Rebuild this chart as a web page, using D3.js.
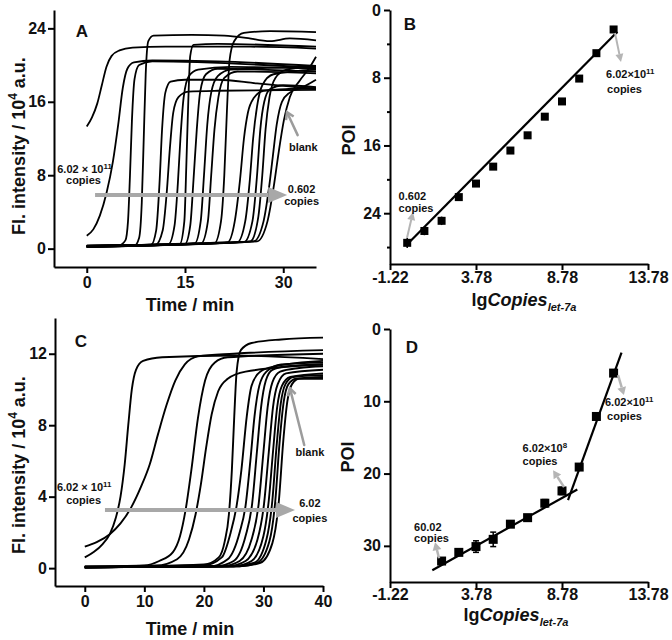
<!DOCTYPE html>
<html><head><meta charset="utf-8">
<script src="https://cdn.jsdelivr.net/npm/d3@7"></script>
<style>
body{margin:0;background:#fff;}
svg{display:block;}
text{font-family:"Liberation Sans",Arial,sans-serif;font-weight:bold;fill:#111;}
</style></head><body>
<svg id="chart" width="672" height="640"></svg>
<script>
// ---------------- DATA ----------------
// Panel A: fluorescence curves [time (min), intensity (10^4 a.u.)]
const curvesA = [
  [[0,13.3],[0.8,14.3],[1.6,15.8],[2.3,17.8],[3,19.8],[3.8,21],[5,21.6],[7,21.9],[12,22.0],[25,22.0],[35,21.8]],
  [[0,1.4],[1,2.1],[2,3.6],[3,6],[4,9.5],[4.8,13.5],[5.5,17.5],[6.2,19.6],[7.2,20.3],[10,20.5],[20,20.4],[35,19.9]],
  [[0,0.35],[5,0.4],[5.9,0.9],[6.3,3],[6.6,8],[6.9,14],[7.3,18.5],[8,20],[10,20.4],[35,19.7]],
  [[0,0.3],[7.3,0.35],[8.0,1.2],[8.4,5],[8.7,12],[9.0,19],[9.4,22.6],[10.2,23.2],[16,23.3],[21,23.2],[24,23.0],[28,22.6],[31,22.9],[35,22.7]],
  [[0,0.25],[9.8,0.4],[10.6,2],[11.1,7],[11.5,13],[12,17],[12.8,18.2],[15,18.4],[20,18.4],[26,18.0],[35,17.4]],
  [[0,0.2],[10.5,0.4],[11.6,2],[12.2,6],[12.7,11],[13.2,14.8],[14,16.5],[15.5,17.1],[20,17.2],[35,17.3]],
  [[0,0.3],[12.5,0.5],[13.4,2.5],[13.9,7],[14.3,12],[14.8,16.5],[15.6,18.8],[17,19.5],[22,19.8],[35,19.6]],
  [[0,0.2],[14.2,0.5],[14.9,3],[15.2,9],[15.5,16],[15.8,21],[16.3,22.2],[20,22.3],[35,22.0]],
  [[0,0.25],[15,0.5],[15.8,2.5],[16.3,7.5],[16.8,13],[17.3,17],[18.2,19],[20,19.6],[35,19.3]],
  [[0,0.3],[16.5,0.6],[17.4,3],[17.9,8],[18.4,13.5],[19,17],[20,18.8],[22,19.5],[35,19.8]],
  [[0,0.2],[17.5,0.6],[18.5,3],[19,8],[19.5,13],[20.1,16.5],[21,18.6],[23,19.3],[35,19.1]],
  [[0,0.25],[19.5,0.6],[20.5,3],[21,8],[21.4,15],[21.8,20.5],[22.5,22.6],[24,23.5],[28,23.7],[35,23.6]],
  [[0,0.3],[21.5,0.7],[22.6,3],[23.4,7.5],[24,12],[24.6,14.8],[25.5,16.4],[27,17.2],[35,17.5]],
  [[0,0.2],[23,0.7],[24.2,3],[24.9,7.5],[25.4,12],[26,15.5],[26.8,17.8],[28.5,19],[35,19.5]],
  [[0,0.3],[24,0.7],[25.3,3],[26,8],[26.5,13],[27.1,16],[28,17.4],[30,17.8],[35,17.6]],
  [[0,0.2],[25,0.8],[26.2,3.5],[26.8,8],[27.3,13],[27.9,16.5],[28.8,18.6],[30.5,19.5],[35,19.9]],
  [[0,0.3],[25.5,0.8],[27,3],[27.8,6.5],[28.4,10],[29,13.5],[29.8,16],[31,17],[33,17.6],[35,18.4]],
  [[0,0.2],[26,0.8],[27.6,3],[28.6,7],[29.3,10.5],[30.1,14],[31,16.5],[32.5,18.3],[34,19.7],[35,20.9]]
];
// Panel C: fluorescence curves [time (min), intensity (10^4 a.u.)]
const curvesC = [
  [[0,0.6],[1.5,0.9],[3,1.35],[4.2,1.9],[5.2,2.8],[6,4],[6.7,5.8],[7.3,8],[7.9,10],[8.6,11.1],[9.8,11.6],[13,11.8],[25,11.9],[40,11.7]],
  [[0,1.2],[2,1.45],[4.2,1.9],[6,2.5],[7.8,3.4],[9.5,4.6],[10.9,5.8],[12.3,7.5],[13.7,9.1],[15.2,10.5],[16.8,11.4],[19,11.85],[25,12.0],[40,12.2]],
  [[0,0.1],[10,0.15],[12.5,0.4],[14.8,0.9],[16,1.8],[16.9,3.2],[17.9,5.5],[19,8.4],[20.2,10.5],[21.8,11.5],[24,11.8],[40,12.0]],
  [[0,0.1],[12,0.15],[15.5,0.5],[17.5,1.6],[18.6,3],[19.5,4.7],[20.4,6.8],[21.3,8.6],[22.4,9.9],[24,10.6],[27,11.0],[40,11.4]],
  [[0,0.05],[20,0.2],[22.5,0.6],[23.5,1.5],[24.2,3],[24.7,5.5],[25.1,8.5],[25.5,11],[26.2,12.2],[28,12.6],[33,12.8],[40,12.9]],
  [[0,0.05],[20,0.15],[23,0.6],[24.5,2],[25.5,3.5],[26.3,5.5],[27.2,8.5],[28,10.2],[29.5,11],[32,11.3],[40,11.6]],
  [[0,0.05],[21,0.1],[24,0.5],[26,2],[27,3.5],[27.8,6],[28.5,8.5],[29.3,10.2],[30.5,11],[33,11.4],[40,11.5]],
  [[0,0.05],[22,0.1],[25,0.4],[27,1.8],[28.1,3.6],[28.9,6.5],[29.6,9],[30.4,10.5],[31.5,11.1],[34,11.3],[40,11.4]],
  [[0,0.05],[23,0.1],[26,0.4],[28,1.6],[29.2,3.6],[30,6.5],[30.7,9],[31.5,10.4],[32.8,11],[36,11.2],[40,11.3]],
  [[0,0.05],[24,0.1],[27,0.4],[29,1.6],[30.1,3.6],[30.9,6.5],[31.6,9],[32.4,10.3],[33.8,10.9],[40,11.1]],
  [[0,0.05],[25,0.1],[28,0.4],[30,1.8],[30.9,3.8],[31.6,6.5],[32.3,9],[33.1,10.2],[34.5,10.7],[40,10.9]],
  [[0,0.05],[25,0.1],[28.5,0.3],[30.5,1.6],[31.5,3.8],[32.2,6.8],[32.9,9.2],[33.7,10.3],[35,10.7],[40,10.8]],
  [[0,0.05],[26,0.1],[29,0.3],[31,1.5],[32,3.8],[32.7,7],[33.4,9.3],[34.2,10.3],[35.5,10.6],[40,10.7]],
  [[0,0.05],[26,0.1],[29.5,0.3],[31.5,1.4],[32.6,3.8],[33.3,7],[34,9.3],[34.8,10.3],[36,10.6],[40,10.6]]
];
// Panel B: POI vs lg copies
const lgB   = [-0.22, 0.78, 1.78, 2.78, 3.78, 4.78, 5.78, 6.78, 7.78, 8.78, 9.78, 10.78, 11.78];
const poiB  = [27.5, 26.1, 24.9, 22.1, 20.5, 18.5, 16.6, 14.8, 12.6, 10.8, 8.1, 5.1, 2.3];
const errB  = [0.6, 0.5, 0.5, 0.3, 0.3, 0.3, 0.3, 0.3, 0.3, 0.3, 0.3, 0.3, 0.3];
const fitB  = [[-0.3, 27.85], [12.0, 2.56]];
// Panel D: POI vs lg copies
const lgD   = [1.78, 2.78, 3.78, 4.78, 5.78, 6.78, 7.78, 8.78, 9.78, 10.78, 11.78];
const poiD  = [32.1, 30.9, 30.1, 29.1, 27.0, 26.1, 24.1, 22.4, 19.1, 12.1, 6.1];
const errD  = [0.4, 0.4, 0.8, 1.0, 0.4, 0.4, 0.5, 0.5, 0.4, 0.4, 0.4];
const fitD1 = [[1.24, 33.38], [9.67, 22.2]];
const fitD2 = [[9.13, 23.68], [12.24, 3.28]];
// Ticks
const timeTicksA = [0, 15, 30];
const intTicksA  = [0, 8, 16, 24];
const timeTicksC = [0, 10, 20, 30, 40];
const intTicksC  = [0, 4, 8, 12];
const lgTicks    = [-1.22, 3.78, 8.78, 13.78];
const poiTicksB  = [0, 8, 16, 24];
const poiMinorB  = [4, 12, 20, 28];
const poiTicksD  = [0, 10, 20, 30];
// Annotations (data coordinates)
const arrowA  = [[1.27, 5.84], [30.6, 5.84]];
const blankA  = [[32.2, 12.37], [30.57, 14.87]];
const arrowC  = [[3.39, 3.25], [35.3, 3.25]];
const blankC  = [[36.85, 6.89], [34.45, 10.06]];
const arrowsB = [[[-0.23, 26.9], [0.12, 23.86]], [[11.86, 2.72], [12.21, 6.14]]];
const arrowsD = [[[1.63, 31.72], [1.40, 29.5]], [[8.90, 21.88], [8.26, 19.53]], [[12.04, 6.37], [12.38, 9.14]]];

// ---------------- DRAW ----------------
const svg = d3.select("#chart");
svg.append("rect").attr("width", 672).attr("height", 640).attr("fill", "#fff");

function styleAxis(g, fs) {
  g.attr("font-family", null).attr("font-size", null);
  g.select(".domain").attr("stroke", "#000").attr("stroke-width", 2);
  g.selectAll(".tick line").attr("stroke", "#000").attr("stroke-width", 2);
  g.selectAll(".tick text").attr("fill", "#111").style("font-size", fs + "px").style("font-weight", "bold");
}
function axes(x, y, xt, yt, xy0, yx0, opt) {
  const gx = svg.append("g").attr("transform", `translate(0,${xy0})`)
    .call(d3.axisBottom(x).tickValues(xt).tickSize(6).tickSizeOuter(0).tickPadding(opt.xpad).tickFormat(d => String(d)));
  styleAxis(gx, 16);
  const gy = svg.append("g").attr("transform", `translate(${yx0},0)`)
    .call(d3.axisLeft(y).tickValues(yt).tickSize(6).tickSizeOuter(0).tickPadding(opt.ypad).tickFormat(d => String(d)));
  styleAxis(gy, 16);
  if (opt.minor) {
    const gm = svg.append("g").attr("transform", `translate(${yx0},0)`)
      .call(d3.axisLeft(y).tickValues(opt.minor).tickSize(3).tickFormat(""));
    gm.select(".domain").remove();
    gm.selectAll(".tick line").attr("stroke", "#000").attr("stroke-width", 2);
  }
}
function arrowFilled(p1, p2, color, w, L, W) {
  const ang = Math.atan2(p2[1] - p1[1], p2[0] - p1[0]);
  const bx = p2[0] - L * Math.cos(ang), by = p2[1] - L * Math.sin(ang);
  svg.append("line").attr("x1", p1[0]).attr("y1", p1[1]).attr("x2", bx).attr("y2", by)
    .attr("stroke", color).attr("stroke-width", w);
  const s = Math.sin(ang), c = Math.cos(ang);
  svg.append("polygon").attr("points",
    `${p2[0]},${p2[1]} ${bx + W * s},${by - W * c} ${bx - W * s},${by + W * c}`).attr("fill", color);
}
function arrowOpen(p1, p2, color, w, L) {
  const ang = Math.atan2(p2[1] - p1[1], p2[0] - p1[0]);
  svg.append("line").attr("x1", p1[0]).attr("y1", p1[1]).attr("x2", p2[0]).attr("y2", p2[1])
    .attr("stroke", color).attr("stroke-width", w).attr("stroke-linecap", "round");
  const a1 = ang + Math.PI - 0.55, a2 = ang + Math.PI + 0.55;
  svg.append("polyline").attr("points",
    `${p2[0] + L * Math.cos(a1)},${p2[1] + L * Math.sin(a1)} ${p2[0]},${p2[1]} ${p2[0] + L * Math.cos(a2)},${p2[1] + L * Math.sin(a2)}`)
    .attr("fill", "none").attr("stroke", color).attr("stroke-width", w).attr("stroke-linejoin", "miter");
}
function supText(x, y, base, sup, fs, anchor) {
  const t = svg.append("text").attr("x", x).attr("y", y).attr("text-anchor", anchor).style("font-size", fs + "px").attr("fill", "#222");
  t.append("tspan").text(base);
  t.append("tspan").style("font-size", (fs * 0.72) + "px").attr("dy", -fs * 0.38).text(sup);
  return t;
}
function plainText(x, y, s, fs, anchor) {
  return svg.append("text").attr("x", x).attr("y", y).attr("text-anchor", anchor).style("font-size", fs + "px").attr("fill", "#222").text(s);
}
function yTitleFl(cx, cy) {
  const t = svg.append("text").attr("transform", `translate(${cx},${cy}) rotate(-90)`).attr("text-anchor", "middle").style("font-size", "18px");
  t.append("tspan").text("Fl. intensity / 10");
  t.append("tspan").style("font-size", "12px").attr("dy", -8).text("4");
  t.append("tspan").attr("dy", 8).text(" a.u.");
}
function yTitlePOI(cx, cy) {
  svg.append("text").attr("transform", `translate(${cx},${cy}) rotate(-90)`).attr("text-anchor", "middle").style("font-size", "18px").text("POI");
}
function xTitleLg(cx, by) {
  const t = svg.append("text").attr("x", cx).attr("y", by).attr("text-anchor", "middle").style("font-size", "18px");
  t.append("tspan").text("lg");
  t.append("tspan").style("font-style", "italic").text("Copies");
  t.append("tspan").style("font-style", "italic").style("font-size", "11px").attr("dy", 5).text("let-7a");
}
function panelLabel(x, y, s) {
  svg.append("text").attr("x", x).attr("y", y).attr("text-anchor", "middle").style("font-size", "17px").text(s);
}

// ---- Panel A ----
const xA = d3.scaleLinear().domain([-5, 35]).range([54, 316]);
const yA = d3.scaleLinear().domain([-2, 26]).range([267, 10]);
const lineA = d3.line().x(d => xA(d[0])).y(d => yA(d[1])).curve(d3.curveMonotoneX);
svg.append("g").selectAll("path").data(curvesA).join("path")
  .attr("d", lineA).attr("fill", "none").attr("stroke", "#000").attr("stroke-width", 1.8);
axes(xA, yA, timeTicksA, intTicksA, 267, 54, {xpad: 4, ypad: 2});
arrowFilled([xA(arrowA[0][0]), yA(arrowA[0][1])], [xA(arrowA[1][0]), yA(arrowA[1][1])], "#a8a8a8", 4, 19, 8);
arrowOpen([xA(blankA[0][0]), yA(blankA[0][1])], [xA(blankA[1][0]), yA(blankA[1][1])], "#9c9c9c", 2.5, 8);
supText(xA(-0.34), yA(8.27), "6.02 × 10", "11", 11, "middle");
plainText(xA(-0.5), yA(7.04), "copies", 11, "middle");
plainText(xA(32.8), yA(6.05), "0.602", 11, "middle");
plainText(xA(32.8), yA(4.75), "copies", 11, "middle");
plainText(xA(33.06), yA(10.63), "blank", 11, "middle");
panelLabel(82, 37, "A");
svg.append("text").attr("x", 190).attr("y", 311).attr("text-anchor", "middle").style("font-size", "18px").text("Time / min");
yTitleFl(25, 146);

// ---- Panel B ----
const xB = d3.scaleLinear().domain([-1.22, 13.78]).range([390, 648]);
const yB = d3.scaleLinear().domain([0, 30]).range([10, 264]);
axes(xB, yB, lgTicks, poiTicksB, 264, 390, {xpad: 2, ypad: 3, minor: poiMinorB});
svg.append("path").datum(fitB).attr("d", d3.line().x(d => xB(d[0])).y(d => yB(d[1])))
  .attr("stroke", "#000").attr("stroke-width", 2.2).attr("fill", "none");
const ptsB = lgB.map((x, i) => ({x, y: poiB[i], e: errB[i]}));
const gB = svg.append("g");
gB.selectAll("line.eb").data(ptsB).join("line").attr("class", "eb")
  .attr("x1", d => xB(d.x)).attr("x2", d => xB(d.x)).attr("y1", d => yB(d.y - d.e)).attr("y2", d => yB(d.y + d.e))
  .attr("stroke", "#000").attr("stroke-width", 1.5);
gB.selectAll("rect").data(ptsB).join("rect")
  .attr("x", d => xB(d.x) - 4).attr("y", d => yB(d.y) - 4).attr("width", 8).attr("height", 8).attr("fill", "#000");
arrowsB.forEach(a => arrowFilled([xB(a[0][0]), yB(a[0][1])], [xB(a[1][0]), yB(a[1][1])], "#b5b5b5", 2, 8, 4));
plainText(xB(-0.72), yB(22.4), "0.602", 11, "start");
plainText(xB(-0.72), yB(23.9), "copies", 11, "start");
supText(xB(11.34), yB(8.0), "6.02×10", "11", 11, "start");
plainText(xB(11.4), yB(9.75), "copies", 11, "start");
panelLabel(410, 30, "B");
xTitleLg(524, 306);
yTitlePOI(355, 140);

// ---- Panel C ----
const xC = d3.scaleLinear().domain([-5, 40]).range([55, 323]);
const yC = d3.scaleLinear().domain([-1, 14]).range([586, 318]);
const lineC = d3.line().x(d => xC(d[0])).y(d => yC(d[1])).curve(d3.curveMonotoneX);
svg.append("g").selectAll("path").data(curvesC).join("path")
  .attr("d", lineC).attr("fill", "none").attr("stroke", "#000").attr("stroke-width", 1.9);
axes(xC, yC, timeTicksC, intTicksC, 586, 55, {xpad: 4, ypad: 2});
arrowFilled([xC(arrowC[0][0]), yC(arrowC[0][1])], [xC(arrowC[1][0]), yC(arrowC[1][1])], "#a8a8a8", 4, 19, 8);
arrowOpen([xC(blankC[0][0]), yC(blankC[0][1])], [xC(blankC[1][0]), yC(blankC[1][1])], "#9c9c9c", 2.5, 8);
supText(xC(-0.1), yC(4.31), "6.02 × 10", "11", 11, "middle");
plainText(xC(-0.2), yC(3.58), "copies", 11, "middle");
plainText(xC(37.8), yC(3.4), "6.02", 11, "middle");
plainText(xC(37.8), yC(2.6), "copies", 11, "middle");
plainText(xC(37.8), yC(6.27), "blank", 11, "middle");
panelLabel(81, 347, "C");
svg.append("text").attr("x", 190).attr("y", 635).attr("text-anchor", "middle").style("font-size", "18px").text("Time / min");
yTitleFl(25, 465);

// ---- Panel D ----
const xD = d3.scaleLinear().domain([-1.22, 13.78]).range([390, 648]);
const yD = d3.scaleLinear().domain([0, 35]).range([329, 582]);
axes(xD, yD, lgTicks, poiTicksD, 582, 390, {xpad: 1, ypad: 3});
const lnD = d3.line().x(d => xD(d[0])).y(d => yD(d[1]));
[fitD1, fitD2].forEach(f => svg.append("path").datum(f).attr("d", lnD)
  .attr("stroke", "#000").attr("stroke-width", 2.2).attr("fill", "none"));
const ptsD = lgD.map((x, i) => ({x, y: poiD[i], e: errD[i]}));
const gD = svg.append("g");
gD.selectAll("line.eb").data(ptsD).join("line").attr("class", "eb")
  .attr("x1", d => xD(d.x)).attr("x2", d => xD(d.x)).attr("y1", d => yD(d.y - d.e)).attr("y2", d => yD(d.y + d.e))
  .attr("stroke", "#000").attr("stroke-width", 1.5);
gD.selectAll("line.cap1").data(ptsD).join("line").attr("class", "cap1")
  .attr("x1", d => xD(d.x) - 3).attr("x2", d => xD(d.x) + 3).attr("y1", d => yD(d.y - d.e)).attr("y2", d => yD(d.y - d.e))
  .attr("stroke", "#000").attr("stroke-width", 1.5);
gD.selectAll("line.cap2").data(ptsD).join("line").attr("class", "cap2")
  .attr("x1", d => xD(d.x) - 3).attr("x2", d => xD(d.x) + 3).attr("y1", d => yD(d.y + d.e)).attr("y2", d => yD(d.y + d.e))
  .attr("stroke", "#000").attr("stroke-width", 1.5);
gD.selectAll("rect").data(ptsD).join("rect")
  .attr("x", d => xD(d.x) - 4.5).attr("y", d => yD(d.y) - 4.5).attr("width", 9).attr("height", 9).attr("fill", "#000");
arrowsD.forEach(a => arrowFilled([xD(a[0][0]), yD(a[0][1])], [xD(a[1][0]), yD(a[1][1])], "#b5b5b5", 2.5, 8, 4.5));
plainText(xD(0.18), yD(27.98), "60.02", 11, "start");
plainText(xD(0.18), yD(29.45), "copies", 11, "start");
supText(xD(6.49), yD(17.0), "6.02×10", "8", 11, "start");
plainText(xD(6.49), yD(18.75), "copies", 11, "start");
supText(xD(11.28), yD(10.66), "6.02×10", "11", 11, "start");
plainText(xD(11.4), yD(12.6), "copies", 11, "start");
panelLabel(412, 353, "D");
xTitleLg(516, 621);
yTitlePOI(354, 457);
</script>
</body></html>
